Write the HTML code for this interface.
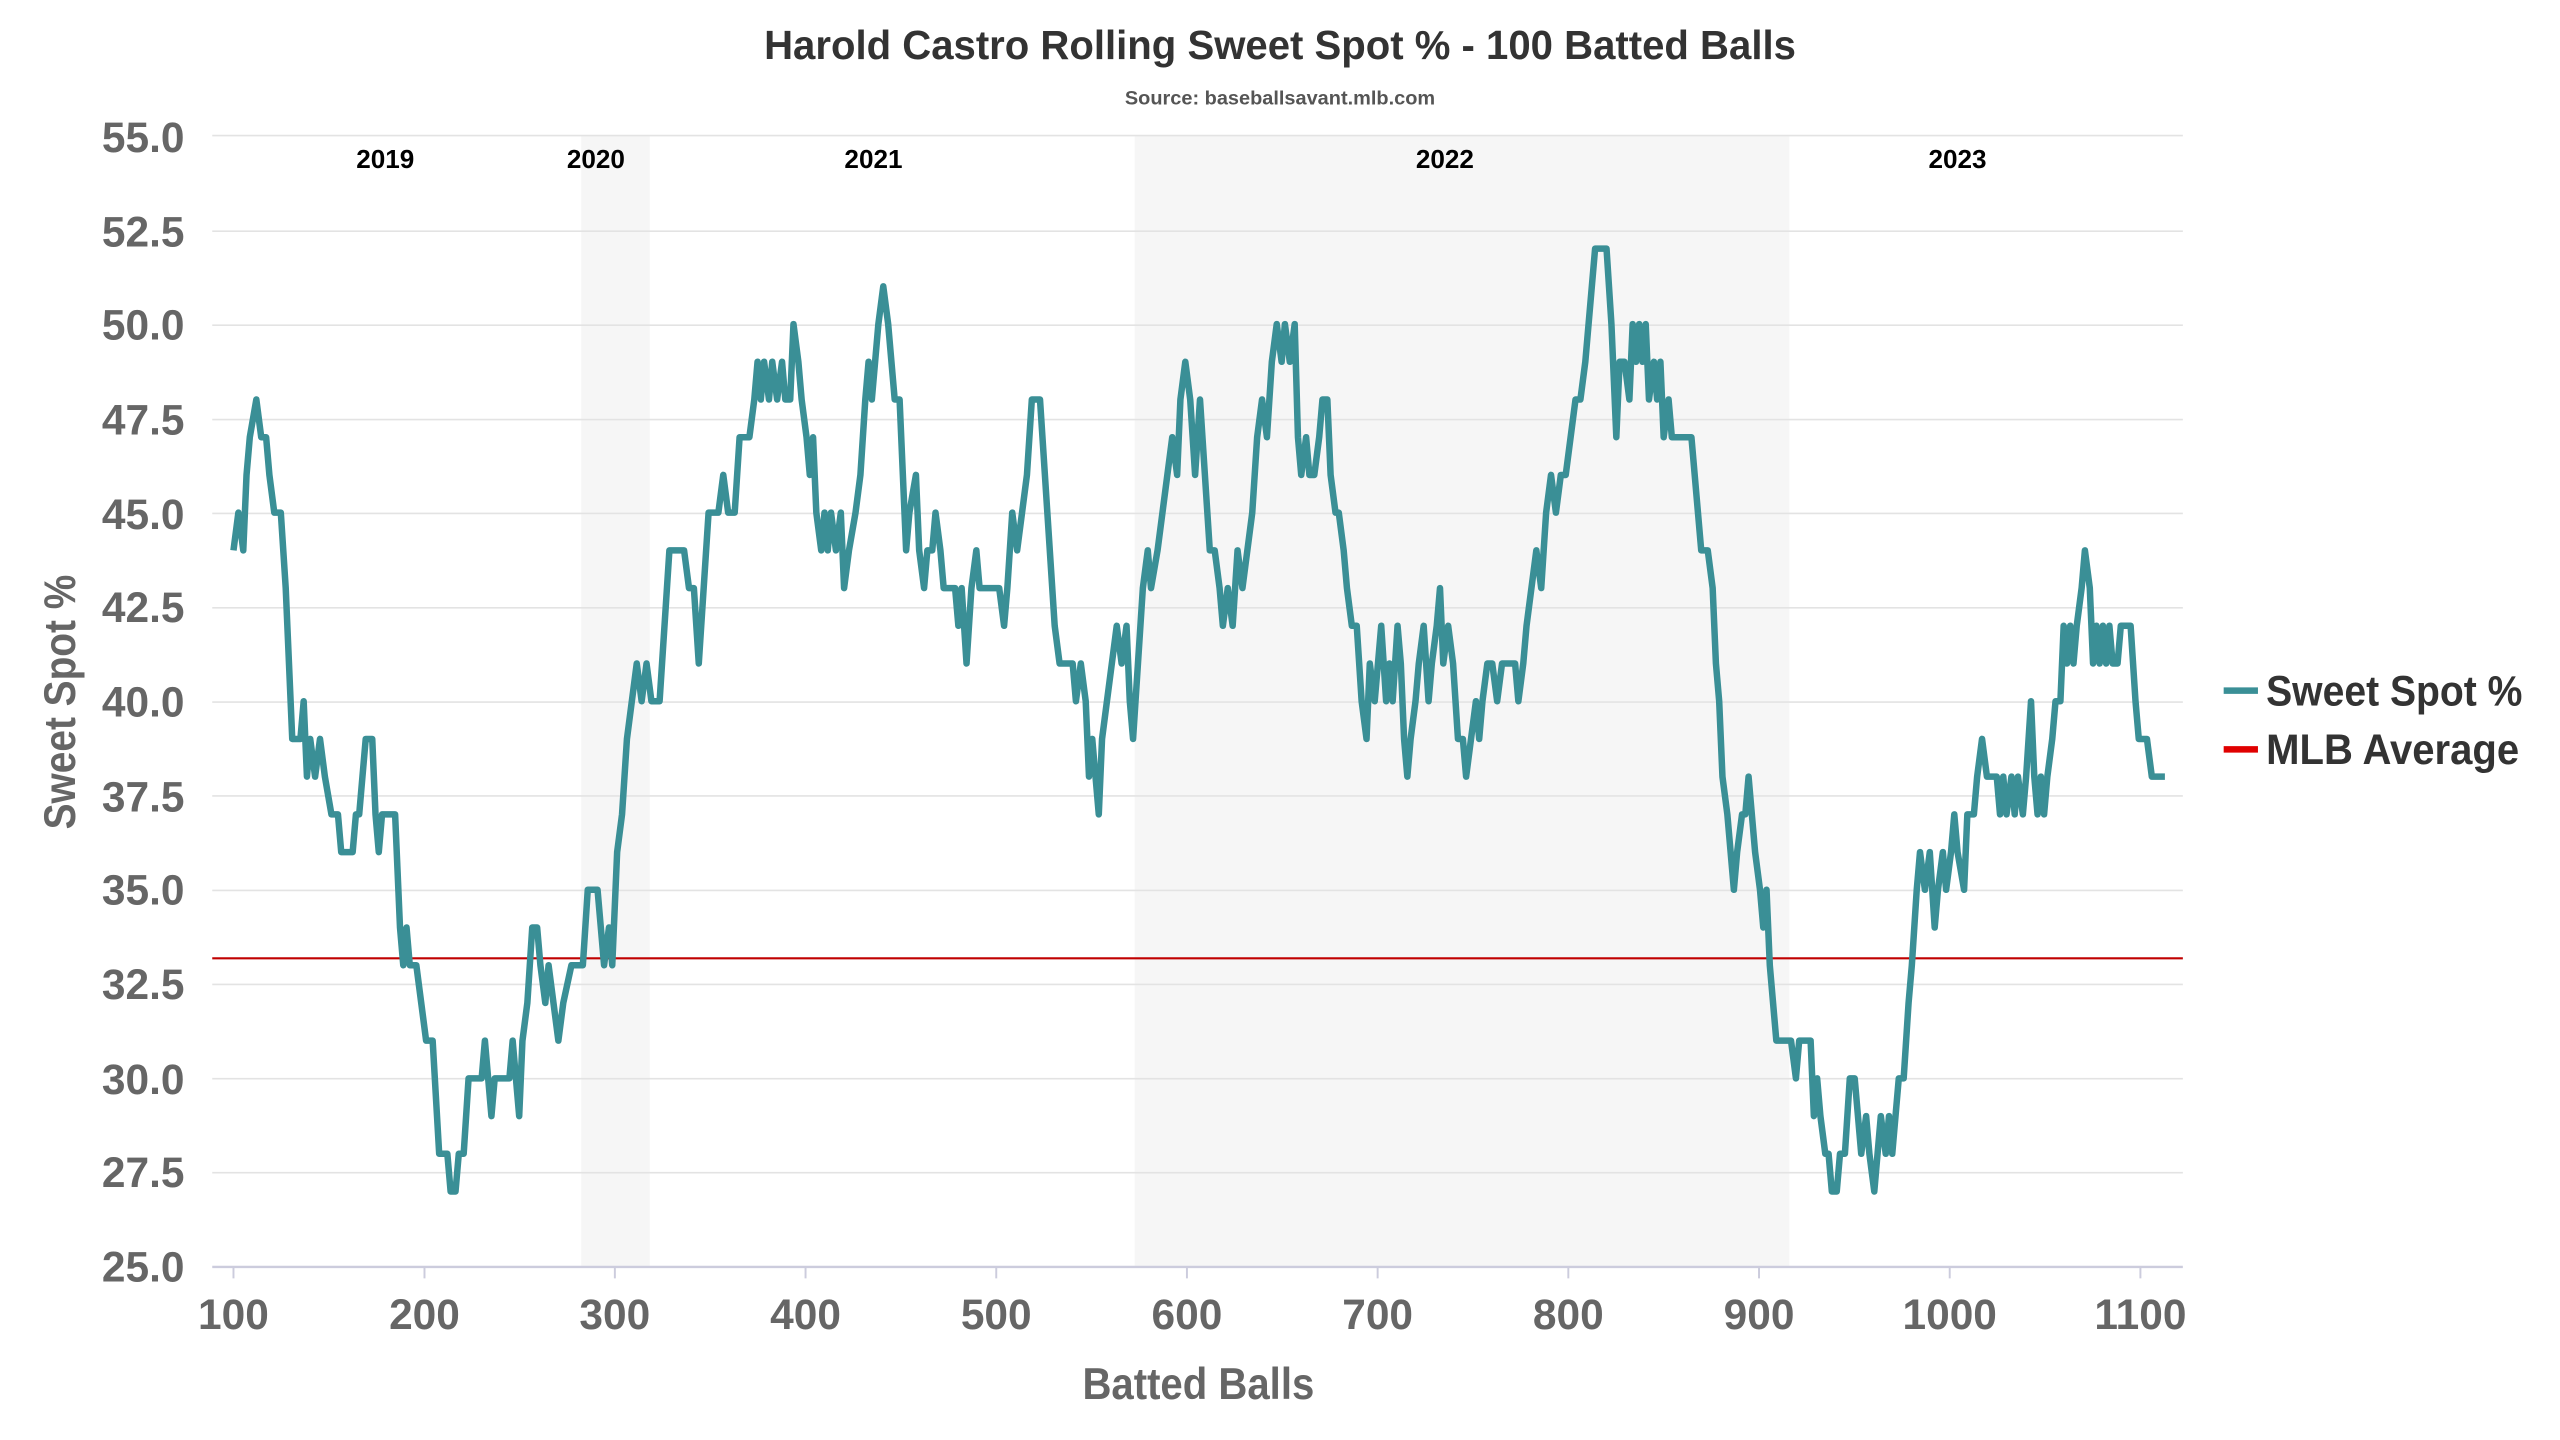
<!DOCTYPE html>
<html><head><meta charset="utf-8"><style>
html,body{margin:0;padding:0;background:#fff;}
svg{display:block;}
text{font-family:"Liberation Sans Narrow","Liberation Sans",sans-serif;font-weight:bold;}
</style></head><body>
<svg width="2560" height="1440" viewBox="0 0 1568 882" preserveAspectRatio="none" xmlns="http://www.w3.org/2000/svg">
<rect width="1568" height="882" fill="#fff"/>
<rect x="356" y="83" width="42" height="693" fill="#f6f6f6"/>
<rect x="695" y="83" width="401" height="693" fill="#f6f6f6"/>
<g stroke="#e3e3e3" stroke-width="1">
<line x1="130" x2="1337" y1="83" y2="83"/><line x1="130" x2="1337" y1="141.6" y2="141.6"/><line x1="130" x2="1337" y1="199.2" y2="199.2"/><line x1="130" x2="1337" y1="257" y2="257"/><line x1="130" x2="1337" y1="314.5" y2="314.5"/><line x1="130" x2="1337" y1="372.3" y2="372.3"/><line x1="130" x2="1337" y1="430" y2="430"/><line x1="130" x2="1337" y1="487.5" y2="487.5"/><line x1="130" x2="1337" y1="545.4" y2="545.4"/><line x1="130" x2="1337" y1="603" y2="603"/><line x1="130" x2="1337" y1="660.7" y2="660.7"/><line x1="130" x2="1337" y1="718.3" y2="718.3"/>
</g>
<line x1="130" x2="1337" y1="776" y2="776" stroke="#ccd" stroke-width="1.5"/>
<g stroke="#ccd" stroke-width="1.2">
<line x1="143" x2="143" y1="776" y2="783"/><line x1="260" x2="260" y1="776" y2="783"/><line x1="376.6" x2="376.6" y1="776" y2="783"/><line x1="493.4" x2="493.4" y1="776" y2="783"/><line x1="610.2" x2="610.2" y1="776" y2="783"/><line x1="727" x2="727" y1="776" y2="783"/><line x1="843.8" x2="843.8" y1="776" y2="783"/><line x1="960.6" x2="960.6" y1="776" y2="783"/><line x1="1077.4" x2="1077.4" y1="776" y2="783"/><line x1="1194.2" x2="1194.2" y1="776" y2="783"/><line x1="1311" x2="1311" y1="776" y2="783"/>
</g>
<line x1="130" x2="1337" y1="587" y2="587" stroke="#c00000" stroke-width="1.3"/>
<polyline fill="none" stroke="#3a8f96" stroke-width="6.5" vector-effect="non-scaling-stroke" stroke-linejoin="round" transform="matrix(1 0 0 -23.1 0 1353.5)" points="143,44 146,45 149,44 151,46 153,47 157,48 160,47 163,47 165,46 168,45 172,45 175,43 179,39 184,39 186,40 188,38 190,39 193,38 196,39 199,38 203,37 207,37 209,36 216,36 218,37 220,37 222,38 224,39 228,39 230,37 232,36 234,37 242,37 245,34 247,33 249,34 251,33 255,33 258,32 261,31 265,31 269,28 274,28 276,27 279,27 281,28 284,28 287,30 295,30 297,31 299,30 301,29 303,30 312,30 314,31 316,30 318,29 320,31 323,32 326,34 329,34 331,33 334,32 336,33 339,32 342,31 345,32 350,33 357,33 360,35 366,35 368,34 370,33 373,34 375,33 378,36 381,37 384,39 387,40 390,41 393,40 396,41 399,40 404,40 407,42 410,44 419,44 422,43 425,43 428,41 431,43 434,45 440,45 443,46 446,45 450,45 453,47 459,47 462,48 464,49 466,48 468,49 471,48 473,49 476,48 479,49 481,48 484,48 486,50 489,49 491,48 494,47 496,46 498,47 500,45 503,44 505,45 507,44 509,45 512,44 515,45 517,43 520,44 524,45 527,46 530,48 532,49 534,48 536,49 538,50 541,51 544,50 546,49 548,48 551,48 553,46 555,44 557,45 561,46 563,44 566,43 568,44 571,44 573,45 576,44 578,43 582,43 585,43 587,42 589,43 592,41 595,43 598,44 600,43 612,43 615,42 617,43 620,45 623,44 626,45 629,46 632,48 637,48 640,46 643,44 646,42 649,41 657,41 659,40 662,41 665,40 667,38 669,39 671,38 673,37 675,39 678,40 681,41 684,42 687,41 690,42 692,40 694,39 697,41 700,43 703,44 705,43 709,44 712,45 715,46 718,47 721,46 723,48 726,49 729,48 732,46 735,48 738,46 741,44 744,44 747,43 749,42 752,43 755,42 758,44 761,43 764,44 767,45 770,47 773,48 776,47 779,49 782,50 785,49 787,50 790,49 793,50 795,47 797,46 800,47 802,46 805,46 808,47 810,48 813,48 815,46 818,45 820,45 823,44 825,43 828,42 831,42 834,40 837,39 839,41 842,40 844,41 846,42 849,40 851,41 853,40 856,42 858,41 860,39 862,38 864,39 867,40 869,41 872,42 875,40 877,41 880,42 882,43 884,41 887,42 890,41 893,39 896,39 898,38 901,39 904,40 906,39 908,40 911,41 914,41 917,40 920,41 924,41 928,41 930,40 933,41 935,42 938,43 941,44 944,43 947,45 950,46 953,45 956,46 959,46 962,47 965,48 968,48 971,49 973,50 975,51 977,52 984,52 987,50 990,47 992,49 995,49 998,48 1000,50 1002,49 1004,50 1006,49 1008,50 1010,48 1013,49 1015,48 1017,49 1019,47 1022,48 1024,47 1032,47 1036,47 1040,45 1042,44 1046,44 1049,43 1051,41 1053,40 1055,38 1058,37 1060,36 1062,35 1064,36 1067,37 1069,37 1071,38 1073,37 1075,36 1078,35 1080,34 1082,35 1084,33 1086,32 1088,31 1092,31 1097,31 1100,30 1102,31 1104,31 1109,31 1111,29 1113,30 1115,29 1118,28 1120,28 1122,27 1125,27 1127,28 1130,28 1133,30 1136,30 1138,29 1140,28 1143,29 1145,28 1148,27 1150,28 1152,29 1155,28 1157,29 1159,28 1161,29 1163,30 1166,30 1169,32 1171,33 1174,35 1176,36 1179,35 1182,36 1185,34 1187,35 1190,36 1192,35 1195,36 1197,37 1199,36 1203,35 1205,37 1209,37 1211,38 1214,39 1217,38 1223,38 1225,37 1227,38 1229,37 1232,38 1234,37 1236,38 1239,37 1241,38 1244,40 1246,38 1248,37 1250,38 1252,37 1254,38 1257,39 1259,40 1262,40 1264,42 1266,41 1268,42 1270,41 1272,42 1275,43 1277,44 1280,43 1282,41 1284,42 1286,41 1288,42 1290,41 1292,42 1294,41 1297,41 1299,42 1305,42 1308,40 1310,39 1315,39 1318,38 1326,38"/>
<text x="784" y="36" text-anchor="middle" font-size="25" fill="#333" textLength="632" lengthAdjust="spacingAndGlyphs">Harold Castro Rolling Sweet Spot % - 100 Batted Balls</text>
<text x="784" y="64" text-anchor="middle" font-size="12" fill="#555" textLength="190" lengthAdjust="spacingAndGlyphs">Source: baseballsavant.mlb.com</text>
<g font-size="16" fill="#000" text-anchor="middle">
<text x="236" y="103">2019</text><text x="365" y="103">2020</text><text x="535" y="103">2021</text><text x="885" y="103">2022</text><text x="1199" y="103">2023</text>
</g>
<g font-size="26" fill="#666" text-anchor="end">
<text x="113" y="93">55.0</text><text x="113" y="151">52.5</text><text x="113" y="208">50.0</text><text x="113" y="266">47.5</text><text x="113" y="324">45.0</text><text x="113" y="381">42.5</text><text x="113" y="439">40.0</text><text x="113" y="497">37.5</text><text x="113" y="554">35.0</text><text x="113" y="612">32.5</text><text x="113" y="670">30.0</text><text x="113" y="727">27.5</text><text x="113" y="785">25.0</text>
</g>
<g font-size="26" fill="#666" text-anchor="middle">
<text x="143" y="814">100</text><text x="260" y="814">200</text><text x="376.6" y="814">300</text><text x="493.4" y="814">400</text><text x="610.2" y="814">500</text><text x="727" y="814">600</text><text x="843.8" y="814">700</text><text x="960.6" y="814">800</text><text x="1077.4" y="814">900</text><text x="1194.2" y="814">1000</text><text x="1311" y="814">1100</text>
</g>
<text x="734" y="857" text-anchor="middle" font-size="27" fill="#666" textLength="142" lengthAdjust="spacingAndGlyphs">Batted Balls</text>
<text transform="translate(46,430) rotate(-90)" text-anchor="middle" font-size="27" fill="#666" textLength="156" lengthAdjust="spacingAndGlyphs">Sweet Spot %</text>
<line x1="1362" x2="1383" y1="423" y2="423" stroke="#3a8f96" stroke-width="4"/>
<line x1="1362" x2="1383" y1="459" y2="459" stroke="#e00000" stroke-width="4"/>
<text x="1388" y="432" font-size="26" fill="#333" textLength="157" lengthAdjust="spacingAndGlyphs">Sweet Spot %</text>
<text x="1388" y="468" font-size="26" fill="#333" textLength="155" lengthAdjust="spacingAndGlyphs">MLB Average</text>
</svg>
</body></html>
